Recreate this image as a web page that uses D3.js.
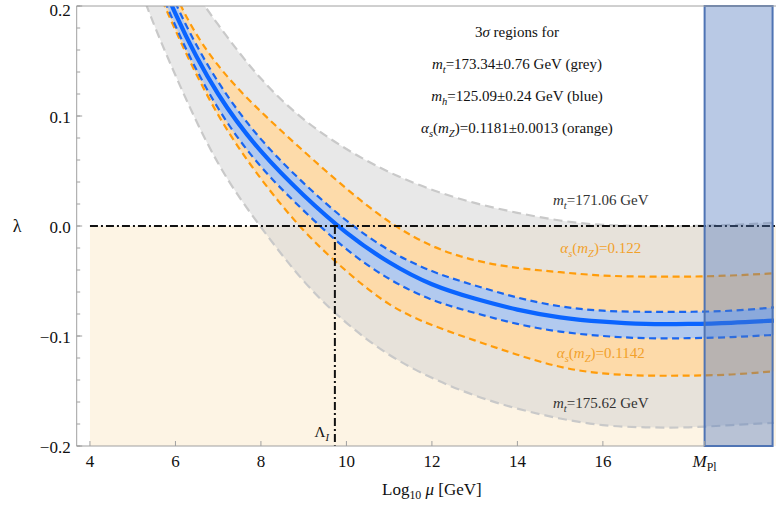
<!DOCTYPE html>
<html>
<head>
<meta charset="utf-8">
<script src="https://cdn.jsdelivr.net/npm/d3@7"></script>
<style>
  html, body { margin: 0; padding: 0; background: #ffffff; }
  svg { display: block; font-family: "Liberation Serif", "DejaVu Serif", serif; }
</style>
</head>
<body>
<svg id="chart" width="776" height="510"></svg>
<script>
// ---------- data ----------
const logMu = [4, 5, 6, 7, 8, 9, 10, 11, 12, 13, 14, 15, 16, 17, 18, 19, 20];
// central value (m_t=173.34, m_h=125.09, alpha_s=0.1181)
const lamCentral   = [0.40, 0.290, 0.193, 0.120, 0.068, 0.028, -0.006, -0.033, -0.053, -0.066, -0.076, -0.083, -0.087, -0.089, -0.089, -0.088, -0.086];
// m_h band (blue)
const lamMhUpper   = [0.42, 0.302, 0.203, 0.131, 0.079, 0.039, 0.005, -0.022, -0.041, -0.054, -0.065, -0.073, -0.077, -0.078, -0.078, -0.077, -0.074];
const lamMhLower   = [0.38, 0.278, 0.182, 0.107, 0.054, 0.014, -0.021, -0.048, -0.067, -0.079, -0.089, -0.096, -0.100, -0.102, -0.102, -0.101, -0.099];
// alpha_s band (orange)
const lamAsUpper   = [0.45, 0.320, 0.211, 0.146, 0.104, 0.068, 0.034, 0.004, -0.018, -0.031, -0.038, -0.042, -0.045, -0.046, -0.046, -0.045, -0.043];
const lamAsLower   = [0.37, 0.270, 0.178, 0.101, 0.043, -0.004, -0.041, -0.071, -0.090, -0.104, -0.117, -0.128, -0.134, -0.136, -0.136, -0.135, -0.132];
// m_t band (grey)
const lamMtUpper   = [0.40, 0.310, 0.240, 0.183, 0.134, 0.097, 0.070, 0.049, 0.033, 0.021, 0.012, 0.005, 0.001, 0.000, 0.000, 0.001, 0.003];
const lamMtLower   = [0.36, 0.235, 0.137, 0.057, -0.001, -0.050, -0.088, -0.117, -0.138, -0.154, -0.166, -0.175, -0.181, -0.183, -0.183, -0.181, -0.179];

const xTicks = [4, 6, 8, 10, 12, 14, 16];
const yTicks = [-0.2, -0.1, 0.0, 0.1, 0.2];
const yTickLabels = ["\u22120.2", "\u22120.1", "0.0", "0.1", "0.2"];
const yMinorTicks = d3.range(-0.2, 0.2001, 0.02);
const logMPl = 18.38;     // reduced Planck mass
const logLambdaI = 9.73;  // instability scale
const xDomain = [3.69, 20.05];
const yDomain = [-0.2, 0.2];
const shadeStart = 4;     // start of the lambda<0 shading
const planckBandEnd = 19.97;

// ---------- layout ----------
const svg = d3.select("#chart");
const pL = 76.7, pR = 776, pT = 6, pB = 446;
const x = d3.scaleLinear().domain(xDomain).range([pL, pR]);
const y = d3.scaleLinear().domain(yDomain).range([pB, pT]);

svg.append("defs").append("clipPath").attr("id", "plotclip")
  .append("rect").attr("x", pL).attr("y", pT).attr("width", pR - pL).attr("height", pB - pT);

const g = svg.append("g").attr("clip-path", "url(#plotclip)");

const pts = arr => logMu.map((L, i) => ({L, v: arr[i]}));
const band = (lo, hi) => logMu.map((L, i) => ({L, lo: lo[i], hi: hi[i]}));
const curve = d3.curveNatural;
const lineGen = d3.line().x(d => x(d.L)).y(d => y(d.v)).curve(curve);
const areaGen = d3.area().x(d => x(d.L)).y0(d => y(d.lo)).y1(d => y(d.hi)).curve(curve);

// cream shading below lambda = 0
g.append("rect")
  .attr("x", x(shadeStart)).attr("y", y(0))
  .attr("width", x(xDomain[1]) - x(shadeStart)).attr("height", y(-0.2) - y(0))
  .attr("fill", "#fdf4e4");

// grey band
g.append("path").datum(band(lamMtLower, lamMtUpper)).attr("d", areaGen)
  .attr("fill", "#cfcfcf").attr("fill-opacity", 0.47);
[lamMtUpper, lamMtLower].forEach(a => g.append("path").datum(pts(a)).attr("d", lineGen)
  .attr("fill", "none").attr("stroke", "#c9c9c9").attr("stroke-width", 2.2).attr("stroke-dasharray", "9,5"));

// orange band
g.append("path").datum(band(lamAsLower, lamAsUpper)).attr("d", areaGen)
  .attr("fill", "#ffd9a3").attr("fill-opacity", 0.9);
[lamAsUpper, lamAsLower].forEach(a => g.append("path").datum(pts(a)).attr("d", lineGen)
  .attr("fill", "none").attr("stroke", "#ff9c0a").attr("stroke-width", 2.2).attr("stroke-dasharray", "7,4.5"));

// blue band
g.append("path").datum(band(lamMhLower, lamMhUpper)).attr("d", areaGen)
  .attr("fill", "#b0c9f2").attr("fill-opacity", 0.97);
[lamMhUpper, lamMhLower].forEach(a => g.append("path").datum(pts(a)).attr("d", lineGen)
  .attr("fill", "none").attr("stroke", "#1a66f0").attr("stroke-width", 2.2).attr("stroke-dasharray", "7,4.5"));

// central line
g.append("path").datum(pts(lamCentral)).attr("d", lineGen)
  .attr("fill", "none").attr("stroke", "#0a64ff").attr("stroke-width", 4.2);

// dash-dot reference lines
g.append("line").attr("x1", x(shadeStart)).attr("x2", x(xDomain[1])).attr("y1", y(0)).attr("y2", y(0))
  .attr("stroke", "#111").attr("stroke-width", 2).attr("stroke-dasharray", "8,3,2,3");
g.append("line").attr("x1", x(logLambdaI)).attr("x2", x(logLambdaI)).attr("y1", y(0)).attr("y2", y(-0.2))
  .attr("stroke", "#111").attr("stroke-width", 2).attr("stroke-dasharray", "8,3,2,3");

// Planck band
svg.append("rect")
  .attr("x", x(logMPl)).attr("y", y(0.2))
  .attr("width", x(planckBandEnd) - x(logMPl)).attr("height", y(-0.2) - y(0.2))
  .attr("fill", "rgb(80,120,190)").attr("fill-opacity", 0.4)
  .attr("stroke", "#4f74b4").attr("stroke-width", 2);

// ---------- frame & axes ----------
const frame = svg.append("g").attr("stroke", "#a0a0a0").attr("stroke-width", 1);
frame.append("line").attr("x1", pL).attr("x2", pR).attr("y1", pT).attr("y2", pT);
frame.append("line").attr("x1", pL).attr("x2", pL).attr("y1", pT).attr("y2", pB);
frame.append("line").attr("x1", pL).attr("x2", x(logMPl)).attr("y1", pB).attr("y2", pB);

yMinorTicks.forEach(v => frame.append("line").attr("x1", pL).attr("x2", pL + 3.5)
  .attr("y1", y(v)).attr("y2", y(v)));
yTicks.forEach(v => frame.append("line").attr("x1", pL).attr("x2", pL + 5.5)
  .attr("y1", y(v)).attr("y2", y(v)));
xTicks.concat([logMPl]).forEach(v => frame.append("line").attr("x1", x(v)).attr("x2", x(v))
  .attr("y1", pB).attr("y2", pB - 5));

const tickFont = 17;
yTicks.forEach((v, i) => svg.append("text")
  .attr("x", pL - 6).attr("y", Math.max(y(v) + 7, 15.5))
  .attr("text-anchor", "end").attr("font-size", tickFont).attr("fill", "#111")
  .text(yTickLabels[i]));
xTicks.forEach(v => svg.append("text")
  .attr("x", x(v)).attr("y", 467)
  .attr("text-anchor", "middle").attr("font-size", tickFont).attr("fill", "#111")
  .text(d3.format("d")(v)));

// rich-text helper
function rich(sel, parts, size) {
  let shifted = 0;
  parts.forEach(p => {
    const t = sel.append("tspan").text(p.t);
    if (p.i) t.attr("font-style", "italic");
    if (p.sub) {
      t.attr("font-size", size * 0.7).attr("dy", size * 0.25 - shifted);
      shifted = size * 0.25;
    } else if (shifted) {
      t.attr("dy", -shifted);
      shifted = 0;
    }
  });
  return sel;
}

// M_Pl tick label
rich(svg.append("text").attr("x", x(logMPl)).attr("y", 467).attr("text-anchor", "middle")
  .attr("font-size", tickFont).attr("fill", "#111"),
  [{t: "M", i: true}, {t: "Pl", sub: true}], tickFont);

// axis titles
rich(svg.append("text").attr("x", x(12)).attr("y", 495).attr("text-anchor", "middle")
  .attr("font-size", 17).attr("fill", "#111"),
  [{t: "Log"}, {t: "10", sub: true}, {t: " "}, {t: "\u03bc", i: true}, {t: " [GeV]"}], 17);
svg.append("text").attr("x", 17).attr("y", 232).attr("text-anchor", "middle")
  .attr("font-size", 18).attr("fill", "#111").text("\u03bb");

// Lambda_I label
rich(svg.append("text").attr("x", x(logLambdaI) - 6).attr("y", 437).attr("text-anchor", "end")
  .attr("font-size", 15).attr("fill", "#111"),
  [{t: "\u039b"}, {t: "I", sub: true, i: true}], 15);

// legend block
const legX = x(13.99), legSize = 15;
rich(svg.append("text").attr("x", legX).attr("y", 37).attr("text-anchor", "middle").attr("font-size", legSize).attr("fill", "#111"),
  [{t: "3"}, {t: "\u03c3", i: true}, {t: " regions for"}], legSize);
rich(svg.append("text").attr("x", legX).attr("y", 69).attr("text-anchor", "middle").attr("font-size", legSize).attr("fill", "#111"),
  [{t: "m", i: true}, {t: "t", sub: true, i: true}, {t: "=173.34\u00b10.76 GeV (grey)"}], legSize);
rich(svg.append("text").attr("x", legX).attr("y", 101).attr("text-anchor", "middle").attr("font-size", legSize).attr("fill", "#111"),
  [{t: "m", i: true}, {t: "h", sub: true, i: true}, {t: "=125.09\u00b10.24 GeV (blue)"}], legSize);
rich(svg.append("text").attr("x", legX).attr("y", 133).attr("text-anchor", "middle").attr("font-size", legSize).attr("fill", "#111"),
  [{t: "\u03b1", i: true}, {t: "s", sub: true, i: true}, {t: "("}, {t: "m", i: true}, {t: "Z", sub: true, i: true}, {t: ")=0.1181\u00b10.0013 (orange)"}], legSize);

// curve labels
const labX = x(15.95);
rich(svg.append("text").attr("x", labX).attr("y", y(0.019)).attr("text-anchor", "middle").attr("font-size", legSize).attr("fill", "#333"),
  [{t: "m", i: true}, {t: "t", sub: true, i: true}, {t: "=171.06 GeV"}], legSize);
rich(svg.append("text").attr("x", labX).attr("y", y(-0.0245)).attr("text-anchor", "middle").attr("font-size", legSize).attr("fill", "#f2a12a"),
  [{t: "\u03b1", i: true}, {t: "s", sub: true, i: true}, {t: "("}, {t: "m", i: true}, {t: "Z", sub: true, i: true}, {t: ")=0.122"}], legSize);
rich(svg.append("text").attr("x", labX).attr("y", y(-0.12)).attr("text-anchor", "middle").attr("font-size", legSize).attr("fill", "#f2a12a"),
  [{t: "\u03b1", i: true}, {t: "s", sub: true, i: true}, {t: "("}, {t: "m", i: true}, {t: "Z", sub: true, i: true}, {t: ")=0.1142"}], legSize);
rich(svg.append("text").attr("x", labX).attr("y", y(-0.1655)).attr("text-anchor", "middle").attr("font-size", legSize).attr("fill", "#333"),
  [{t: "m", i: true}, {t: "t", sub: true, i: true}, {t: "=175.62 GeV"}], legSize);
</script>
</body>
</html>
